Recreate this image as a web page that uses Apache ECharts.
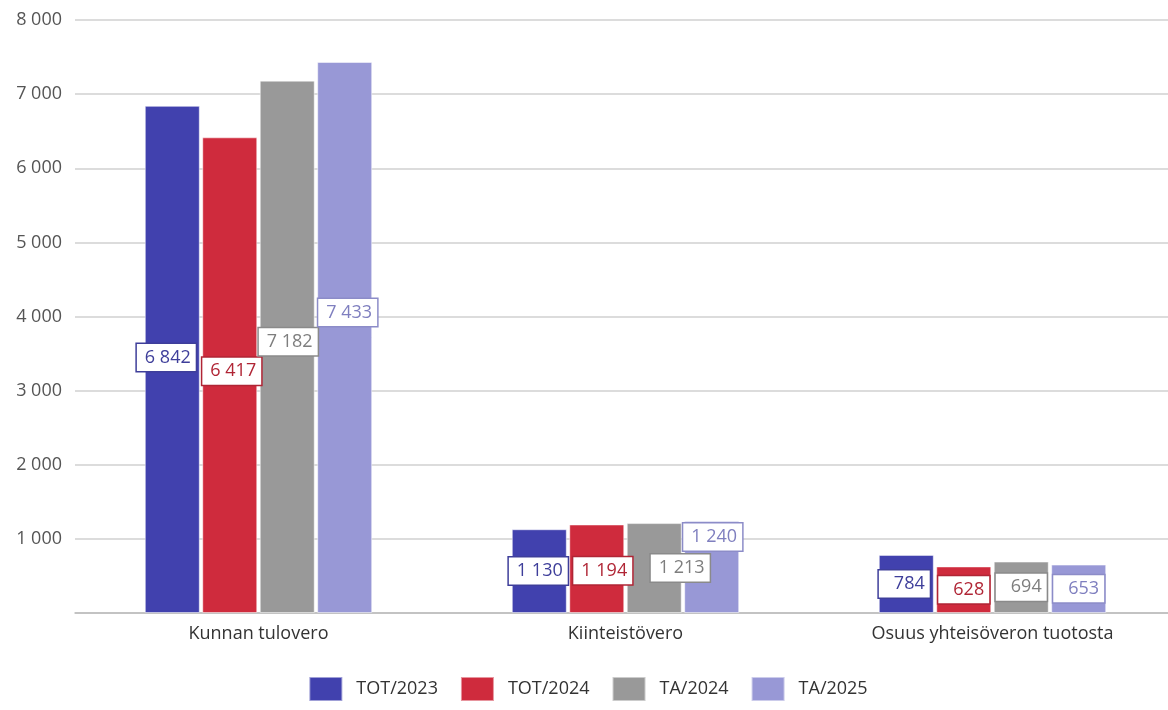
<!DOCTYPE html>
<html><head><meta charset="utf-8">
<script src="https://cdn.jsdelivr.net/npm/echarts@6/dist/echarts.min.js"></script>
<style>html,body{margin:0;padding:0;background:#fff;overflow:hidden}#c{width:1176px;height:710px}</style>
</head><body><div id="c"></div>
<script>
var categories = ['Kunnan tulovero', 'Kiinteistövero', 'Osuus yhteisöveron tuotosta'];
var seriesNames = ['TOT/2023', 'TOT/2024', 'TA/2024', 'TA/2025'];
var tot2023 = [6842, 1130, 784];
var tot2024 = [6417, 1194, 628];
var ta2024 = [7182, 1213, 694];
var ta2025 = [7433, 1240, 653];
var yTicks = [0, 1000, 2000, 3000, 4000, 5000, 6000, 7000, 8000];

var values = [tot2023, tot2024, ta2024, ta2025];
var colors = ['#4141AE', '#CF2B3D', '#999999', '#9898D6'];
var textColors = ['#3E3E9A', '#B02535', '#7E7E7E', '#7F7FBF'];
var borderColors = ['#3E3E9A', '#B02535', '#8A8A8A', '#8C8CC8'];
// nudges for labels that collide in the original (per series, per category)
var labelDx = [[-6, -1, -2], [2, 6, 0], [1, 26, 0], [3, 1, 0]];
var labelDy = [[-2, 0, 0], [-4, 2, 0], [-5, 0, 0], [-25, -30, 0]];

function fmt(v) { return String(v).replace(/\B(?=(\d{3})+(?!\d))/g, ' '); }
var FONT = 'Open Sans';

var series = seriesNames.map(function (name, i) {
  return {
    name: name,
    type: 'bar',
    barWidth: 55,
    barGap: '4.5%',
    itemStyle: { color: colors[i], borderColor: 'rgba(255,255,255,0.5)', borderWidth: 1 },
    data: values[i].map(function (v) {
      var short = fmt(v).length <= 3;
      return { value: v, label: { padding: short ? [3, 5, 2, 15] : [3, 5, 2, 8] } };
    }),
    label: {
      show: true,
      position: 'inside',
      formatter: function (p) { return fmt(p.value); },
      color: textColors[i],
      fontFamily: FONT,
      fontSize: 18,
      lineHeight: 22,
      backgroundColor: '#fff',
      borderColor: borderColors[i],
      borderWidth: 1.5,
      padding: [3, 5, 2, 8]
    },
    labelLayout: function (p) {
      return { dx: labelDx[i][p.dataIndex], dy: labelDy[i][p.dataIndex], hideOverlap: false };
    }
  };
});

var chart = echarts.init(document.getElementById('c'));
chart.setOption({
  animation: false,
  textStyle: { fontFamily: FONT },
  grid: { left: 75, top: 20, right: 0, height: 593, containLabel: false },
  legend: {
    bottom: 3,
    left: 'center',
    itemWidth: 33,
    itemHeight: 24,
    itemGap: 22,
    icon: 'rect',
    textStyle: { fontSize: 18, color: '#333', fontFamily: FONT, padding: [0, 0, 0, 9] },
    data: seriesNames
  },
  xAxis: {
    type: 'category',
    data: categories,
    axisLine: { lineStyle: { color: '#bbb', width: 1.5 } },
    axisTick: { show: false },
    axisLabel: { fontSize: 18, color: '#333', margin: 12, fontFamily: FONT }
  },
  yAxis: {
    type: 'value',
    min: yTicks[0],
    max: yTicks[yTicks.length - 1],
    interval: 1000,
    axisLine: { show: false },
    axisTick: { show: false },
    splitLine: { lineStyle: { color: '#d0d0d0', width: 1.5 } },
    axisLabel: {
      fontSize: 18, color: '#555', margin: 13, fontFamily: FONT,
      formatter: function (v) { return v === 0 ? '' : fmt(v); }
    }
  },
  series: series
});
</script></body></html>
